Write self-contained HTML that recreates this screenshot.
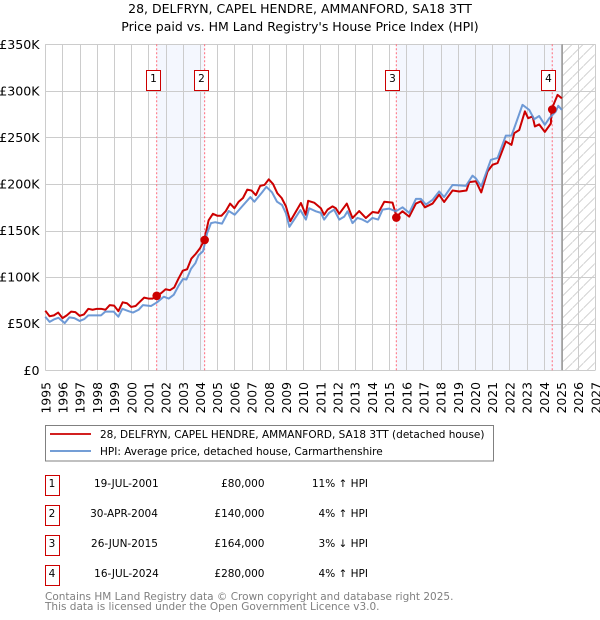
<!DOCTYPE html>
<html>
<head>
<meta charset="utf-8">
<style>
html,body{margin:0;padding:0;background:#fff;}
body{width:600px;height:620px;overflow:hidden;position:relative;}
svg{position:absolute;left:0;top:0;}
text{font-family:"DejaVu Sans","Liberation Sans",sans-serif;fill:#000;}
</style>
</head>
<body>
<svg id="chart" width="600" height="620" viewBox="0 0 600 620" xmlns="http://www.w3.org/2000/svg">
<defs>
<pattern id="hatch" width="11" height="11" patternUnits="userSpaceOnUse" patternTransform="translate(0.5,0)">
<path d="M-1,12 L12,-1" stroke="#d2d2d2" stroke-width="1" fill="none"/>
</pattern>
</defs>
<text x="300" y="13" text-anchor="middle" font-size="12.5">28, DELFRYN, CAPEL HENDRE, AMMANFORD, SA18 3TT</text>
<text x="300" y="31" text-anchor="middle" font-size="12.5">Price paid vs. HM Land Registry's House Price Index (HPI)</text>
<g id="plot"></g>
<g>
<rect x="45.5" y="425.5" width="448" height="35.5" fill="#fff" stroke="#808080" stroke-width="1"/>
<line x1="50" x2="91" y1="434" y2="434" stroke="#cc0000" stroke-width="1.8"/>
<text x="100" y="438" font-size="10.5">28, DELFRYN, CAPEL HENDRE, AMMANFORD, SA18 3TT (detached house)</text>
<line x1="50" x2="91" y1="451" y2="451" stroke="#6090d0" stroke-width="1.8"/>
<text x="100" y="455" font-size="10.5">HPI: Average price, detached house, Carmarthenshire</text>
</g>
<g>
<g>
<rect x="45.5" y="475.5" width="14" height="20" fill="#fff" stroke="#cc0000"/>
<text x="52" y="487" text-anchor="middle" font-size="10.5">1</text>
<text x="126.3" y="487" text-anchor="middle" font-size="10.5">19-JUL-2001</text>
<text x="264.5" y="487" text-anchor="end" font-size="10.5">£80,000</text>
<text x="368" y="487" text-anchor="end" font-size="10.5">11% ↑ HPI</text>
</g>
<g>
<rect x="45.5" y="505.5" width="14" height="20" fill="#fff" stroke="#cc0000"/>
<text x="52" y="517" text-anchor="middle" font-size="10.5">2</text>
<text x="124" y="517" text-anchor="middle" font-size="10.5">30-APR-2004</text>
<text x="264.5" y="517" text-anchor="end" font-size="10.5">£140,000</text>
<text x="368" y="517" text-anchor="end" font-size="10.5">4% ↑ HPI</text>
</g>
<g>
<rect x="45.5" y="535.5" width="14" height="20" fill="#fff" stroke="#cc0000"/>
<text x="52" y="547" text-anchor="middle" font-size="10.5">3</text>
<text x="124.5" y="547" text-anchor="middle" font-size="10.5">26-JUN-2015</text>
<text x="264.5" y="547" text-anchor="end" font-size="10.5">£164,000</text>
<text x="368" y="547" text-anchor="end" font-size="10.5">3% ↓ HPI</text>
</g>
<g>
<rect x="45.5" y="565.5" width="14" height="20" fill="#fff" stroke="#cc0000"/>
<text x="52" y="577" text-anchor="middle" font-size="10.5">4</text>
<text x="126.5" y="577" text-anchor="middle" font-size="10.5">16-JUL-2024</text>
<text x="264.5" y="577" text-anchor="end" font-size="10.5">£280,000</text>
<text x="368" y="577" text-anchor="end" font-size="10.5">4% ↑ HPI</text>
</g>
</g>
<text x="45" y="600" font-size="10.5" style="fill:#808080">Contains HM Land Registry data © Crown copyright and database right 2025.</text>
<text x="45" y="610" font-size="10.5" style="fill:#808080">This data is licensed under the Open Government Licence v3.0.</text>
</svg>
<script>
const xTickYears = [1995,1996,1997,1998,1999,2000,2001,2002,2003,2004,2005,2006,2007,2008,2009,2010,2011,2012,2013,2014,2015,2016,2017,2018,2019,2020,2021,2022,2023,2024,2025,2026,2027];
const yTickValues = [0,50,100,150,200,250,300,350];
const yTickLabels = ['£0','£50K','£100K','£150K','£200K','£250K','£300K','£350K'];

const priceDates = [1995,1995.25,1995.5,1995.75,1996,1996.25,1996.5,1996.75,1997,1997.25,1997.5,1997.75,1998,1998.25,1998.5,1998.75,1999,1999.25,1999.5,1999.75,2000,2000.25,2000.5,2000.75,2001,2001.25,2001.5,2001.75,2002,2002.25,2002.5,2002.75,2003,2003.25,2003.5,2003.75,2004,2004.25,2004.5,2004.75,2005,2005.25,2005.5,2005.75,2006,2006.25,2006.5,2006.75,2007,2007.25,2007.5,2007.75,2008,2008.25,2008.5,2008.75,2009,2009.25,2009.5,2009.87,2010.15,2010.29,2010.64,2011.03,2011.22,2011.42,2011.71,2011.9,2012.1,2012.54,2012.87,2013.26,2013.65,2014.04,2014.37,2014.72,2015.2,2015.43,2015.78,2016.17,2016.56,2016.85,2017.08,2017.53,2017.91,2018.2,2018.69,2019.08,2019.5,2019.66,2020.05,2020.36,2020.73,2021.02,2021.31,2021.79,2022.12,2022.28,2022.57,2022.9,2023.09,2023.35,2023.48,2023.73,2024.06,2024.41,2024.45,2024.8,2025.05];
const priceValues = [64,58,59,62,56,59,63,62.5,58.5,60,66,65,66,66,65,70,69.5,63.5,73,72,68,69,73.5,78,77,77,80,83,87,86,89,98.5,107,108.5,120,125,131,140,161,168,166,166,171,179,174,181,185,194,193,188,198,199,205,200,190,185,176,160,168,179.6,167,182,180,174,167,172.5,176,174,168,179,163.5,171,163.5,170,169,181,180,165,170.7,165,179,181.4,175,179,188.6,180.7,193,192,193,202,203,191,213.6,220.7,222.5,245.7,242,254.6,258,278,270.7,272.5,261.8,264,256,265,280,295.7,292];

const hpiDates = [1995,1995.25,1995.5,1995.76,1996.13,1996.4,1996.69,1997,1997.27,1997.5,1998,1998.24,1998.49,1998.98,1999.25,1999.48,1999.85,2000.1,2000.43,2000.68,2001.15,2001.5,2001.89,2002.18,2002.47,2002.76,2003.01,2003.21,2003.48,2003.73,2003.92,2004.18,2004.41,2004.64,2004.89,2005.28,2005.67,2006.02,2006.45,2006.93,2007.16,2007.61,2007.86,2008.19,2008.48,2008.77,2009,2009.2,2009.45,2009.84,2010.16,2010.35,2010.74,2011.03,2011.22,2011.51,2011.8,2012.1,2012.39,2012.58,2012.87,2013.16,2013.45,2013.74,2014.03,2014.36,2014.62,2015,2015.39,2015.78,2016.17,2016.56,2016.85,2017.14,2017.53,2017.91,2018.2,2018.69,2019.08,2019.47,2019.85,2020.05,2020.36,2020.92,2021.31,2021.79,2022.12,2022.28,2022.76,2023.15,2023.44,2023.73,2024.06,2024.32,2024.7,2024.84,2025.05];
const hpiValues = [57.5,52,54.6,56.4,50.7,56.8,56,53,55,59,59,59,63,63,57.5,66,63.5,62,65,70,69,73,79,77,81,91,98,97.5,109,115,123.6,128,147,158,159,157.5,171,167,176,186,181,191,197,191,181,177.5,168.5,154,161,172,161.8,174,170.7,169,161.8,169,172.5,161.8,165,170.7,158,163.6,161.8,159,163.6,161.8,172.5,173.6,170.7,175,169,184,184,178,183,192,186,199,198.6,198,209,206,197.5,226,228,252,252,260,285,279.6,269.6,273,263.6,270.7,278,284,279.6];

const saleDates = [2001.48,2004.27,2015.42,2024.49];
const saleValues = [80,140,164,280];
const saleLabels = ['1','2','3','4'];
const forecastStart = 2025.07;

const NS = 'http://www.w3.org/2000/svg';
const plot = document.getElementById('plot');
const X = y => 45.3 + (y - 1995) * 17.19;
const Y = v => 370.3 - v * 0.9314;

function mk(tag, attrs, parent) {
  const el = document.createElementNS(NS, tag);
  for (const k in attrs) el.setAttribute(k, attrs[k]);
  (parent || plot).appendChild(el);
  return el;
}

const gridColor = '#cccccc';
const right = X(2027), top0 = Y(350), bot = Y(0);

[[saleDates[0], saleDates[1]], [saleDates[2], forecastStart]].forEach(function (s) {
  const r = mk('rect', {x: X(s[0]), y: top0, width: X(s[1]) - X(s[0]), height: bot - top0, fill: '#f4f7fe'});
  
  
});

const hatch = mk('rect', {x: X(forecastStart), y: top0, width: right - X(forecastStart), height: bot - top0, fill: 'url(#hatch)'});



xTickYears.forEach(function (yr) {
  const px = Math.round(X(yr)) + 0.5;
  const l = mk('line', {x1: px, x2: px, y1: top0, y2: bot, stroke: gridColor, 'stroke-width': 1});
  
  
  const t = mk('text', {'font-size': 12.4, 'text-anchor': 'end', 'dominant-baseline': 'central', transform: 'translate(' + (X(yr) + 0.5) + ',382) rotate(-90)'});
  t.textContent = yr;
  
  
});

yTickValues.forEach(function (v, i) {
  const py = Math.round(Y(v)) + 0.5;
  const l = mk('line', {x1: X(1995), x2: right, y1: py, y2: py, stroke: gridColor, 'stroke-width': 1});
  
  
  const t = mk('text', {x: 39.5, y: Y(v) + 4.5, 'font-size': 12.6, 'text-anchor': 'end'});
  t.textContent = yTickLabels[i];
  
  
});

saleDates.forEach(function (d) {
  const l = mk('line', {x1: X(d), x2: X(d), y1: top0, y2: bot, stroke: '#ff6b7a', 'stroke-width': 1, 'stroke-dasharray': '2 2'});
  
  
});

const edge = mk('line', {x1: X(forecastStart), x2: X(forecastStart), y1: top0, y2: bot, stroke: '#a0a0a0', 'stroke-width': 1.6});



function linePath(ds, vs) {
  return ds.map(function (d, i) { return (i ? 'L' : 'M') + X(d).toFixed(2) + ',' + Y(vs[i]).toFixed(2); }).join(' ');
}

const priceLine = mk('path', {d: linePath(priceDates, priceValues), fill: 'none', stroke: '#cc0000', 'stroke-width': 2, 'stroke-linejoin': 'round'});



const hpiLine = mk('path', {d: linePath(hpiDates, hpiValues), fill: 'none', stroke: '#5f8fd2', 'stroke-width': 2, 'stroke-linejoin': 'round', 'stroke-opacity': 0.9});



saleDates.forEach(function (d, i) {
  const m = mk('circle', {cx: X(d), cy: Y(saleValues[i]), r: 4.3, fill: '#cc0000'});
  
  
  const bx = Math.round(X(d)) - 10.5;
  const b = mk('rect', {x: bx, y: 70.5, width: 14, height: 20, fill: '#fff', stroke: '#cc0000', 'stroke-width': 1});
  
  
  const t = mk('text', {x: bx + 7, y: 82, 'font-size': 10.5, 'text-anchor': 'middle'});
  t.textContent = saleLabels[i];
  
  
});
</script>
</body>
</html>
